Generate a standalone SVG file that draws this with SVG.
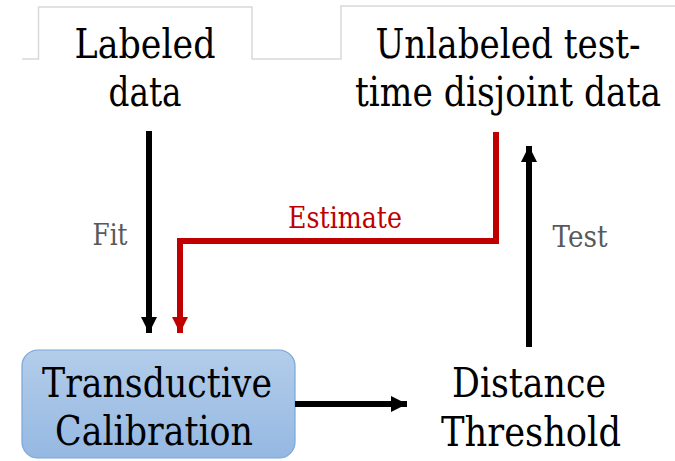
<svg xmlns="http://www.w3.org/2000/svg" width="675" height="461" viewBox="0 0 675 461">
  <defs>
    <linearGradient id="boxFill" x1="0" y1="0" x2="0" y2="1">
      <stop offset="0" stop-color="#b3cdea"/>
      <stop offset="1" stop-color="#95b8e2"/>
    </linearGradient>
    <marker id="headBlack" viewBox="0 0 16 16" refX="16" refY="8" markerWidth="16" markerHeight="16" markerUnits="userSpaceOnUse" orient="auto">
      <path d="M0,0 L16,8 L0,16 Z" fill="#000"/>
    </marker>
    <marker id="headRed" viewBox="0 0 16 16" refX="16" refY="8" markerWidth="16" markerHeight="16" markerUnits="userSpaceOnUse" orient="auto">
      <path d="M0,0 L16,8 L0,16 Z" fill="#c00000"/>
    </marker>
  </defs>
  <style>
    /* serif face; textLength keeps the line widths fixed whichever serif is picked */
    text { font-family: 'DejaVu Serif', 'Liberation Serif', 'Times New Roman', serif; text-anchor: middle; }
    .big { font-size: 41px; fill: #000; }
    .lbl { font-size: 29px; }
    .frame { fill: none; stroke: #d9d9d9; stroke-width: 1.5; }
    .wire { fill: none; stroke-width: 6; }
  </style>

  <!-- light table-like frame lines behind the top labels -->
  <path class="frame" d="M22,59 H38.5 V7 H252 V59 H341 V6 H675"/>

  <g id="labeled-data">
    <text class="big" x="145" y="58" textLength="141" lengthAdjust="spacingAndGlyphs">Labeled</text>
    <text class="big" x="145" y="106" textLength="73" lengthAdjust="spacingAndGlyphs">data</text>
  </g>

  <g id="unlabeled-data">
    <text class="big" x="508" y="58" textLength="265" lengthAdjust="spacingAndGlyphs">Unlabeled test-</text>
    <text class="big" x="508" y="106" textLength="306" lengthAdjust="spacingAndGlyphs">time disjoint data</text>
  </g>

  <g id="transductive-calibration">
    <rect x="22" y="350" width="273" height="108" rx="16" ry="16" fill="url(#boxFill)" stroke="#7aa5da" stroke-width="1.2"/>
    <text class="big" x="157" y="397" textLength="230" lengthAdjust="spacingAndGlyphs">Transductive</text>
    <text class="big" x="154" y="445" textLength="198" lengthAdjust="spacingAndGlyphs">Calibration</text>
  </g>

  <g id="distance-threshold">
    <text class="big" x="529" y="397" textLength="154" lengthAdjust="spacingAndGlyphs">Distance</text>
    <text class="big" x="531" y="446" textLength="180" lengthAdjust="spacingAndGlyphs">Threshold</text>
  </g>

  <g id="connectors">
    <path class="wire" stroke="#000" d="M149,131 V333" marker-end="url(#headBlack)"/>
    <path class="wire" stroke="#c00000" d="M496,132 V241 H180 V333" marker-end="url(#headRed)"/>
    <path class="wire" stroke="#000" d="M529,347 V146" marker-end="url(#headBlack)"/>
    <path class="wire" stroke="#000" d="M295,404 H407" marker-end="url(#headBlack)"/>
    <text class="lbl" x="110" y="245" fill="#595959" textLength="35" lengthAdjust="spacingAndGlyphs">Fit</text>
    <text class="lbl" x="345" y="228" fill="#c00000" textLength="114" lengthAdjust="spacingAndGlyphs">Estimate</text>
    <text class="lbl" x="580" y="247" fill="#595959" textLength="55" lengthAdjust="spacingAndGlyphs">Test</text>
  </g>
</svg>
